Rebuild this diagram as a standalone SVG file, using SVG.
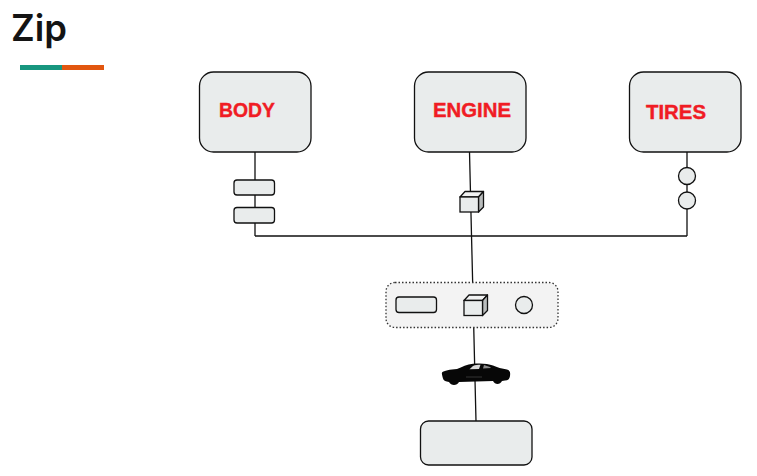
<svg xmlns="http://www.w3.org/2000/svg" width="757" height="476" viewBox="0 0 757 476">
<defs>
<style>
.n{fill:#e9ecec;stroke:#111;stroke-width:1.300}
.c{fill:none;stroke:#111;stroke-width:1.300}
.s{fill:#b9bcbc;stroke:#111;stroke-width:1.300;stroke-linejoin:round}
.t{fill:#f2f3f3;stroke:#111;stroke-width:1.300;stroke-linejoin:round}
.l{font-family:"Liberation Sans",Arial,sans-serif;font-weight:700;font-size:19.500px;fill:#f01c24;stroke:#f01c24;stroke-width:.4}
</style>
<g id="cube">
<path class="t" d="M0 5.500L5 0H23.500L18.500 5.500Z"/>
<path class="s" d="M18.500 5.500L23.500 0V15.500L18.500 20.500Z"/>
<rect class="n" x="0" y="5.500" width="18.500" height="15"/>
</g>
</defs>
<rect width="757" height="476" fill="#fff"/>
<g id="title">
<text x="11" y="41" font-family="Inter,'Liberation Sans',sans-serif" font-size="37" font-weight="600" fill="#141414" textLength="56" lengthAdjust="spacingAndGlyphs">Zip</text>
<rect x="20" y="65" width="42" height="5" fill="#17967f"/>
<rect x="62" y="65" width="42" height="5" fill="#e2560f"/>
</g>
<g id="connectors">
<path class="c" d="M255 152V236M255 236H687M687 152V236M469.500 152L476 421"/>
</g>
<g id="body"><rect class="n" x="199.500" y="72" width="111.500" height="80" rx="14"/><text class="l" x="219" y="116.500" textLength="56" lengthAdjust="spacingAndGlyphs">BODY</text></g>
<g id="engine"><rect class="n" x="414.500" y="72" width="111.500" height="80" rx="14"/><text class="l" x="433" y="116.500" textLength="78" lengthAdjust="spacingAndGlyphs">ENGINE</text></g>
<g id="tires"><rect class="n" x="629.500" y="72" width="111.500" height="80" rx="14"/><text class="l" x="646" y="118.500" textLength="60" lengthAdjust="spacingAndGlyphs">TIRES</text></g>
<g id="body-part-1"><rect class="n" x="234" y="180" width="40.500" height="15" rx="3"/></g>
<g id="body-part-2"><rect class="n" x="234" y="207.500" width="40.500" height="15.500" rx="3"/></g>
<g id="engine-part"><use href="#cube" x="460" y="191.500"/></g>
<g id="tire-1"><circle class="n" cx="687" cy="176" r="8.500"/></g>
<g id="tire-2"><circle class="n" cx="687" cy="200.500" r="8.500"/></g>
<g id="assembly">
<rect x="386" y="282.500" width="172" height="45" rx="9" fill="#f3f3f3" stroke="#333" stroke-width="1.300" stroke-dasharray="1.500 2"/>
<rect class="n" x="396" y="297" width="40.500" height="15.500" rx="3"/>
<use href="#cube" x="464" y="295"/>
<circle class="n" cx="524" cy="305" r="8.500"/>
</g>
<g id="car">
<path fill="#070707" d="M442 372.500C444 370.500 450 369.500 457 369C462 367 467 364.500 473 363.800C480 363 488 363.500 493 365.500C497 367.500 502 368.500 507 369.500C510 370.500 510.500 372 510 376C509.500 379 508 380.500 505 380.500L502 381C500 385 495 385 493 381L459 382C457 386 451 386 449 382C446 381.500 443.500 381 443 378.500C442.500 376 441.500 374 442 372.500Z"/>
<path fill="#d8d8d8" d="M473 366C475 365 478 364.800 480.500 364.800L479 369L469.500 369.300Z"/>
<path fill="#8a8a8a" d="M484 365L490 367L491 368L483 368.500Z"/>
<path fill="none" stroke="#555" stroke-width=".6" d="M466 377H482"/>
</g>
<g id="output"><rect class="n" x="420.500" y="421" width="111.500" height="44" rx="8"/></g>
</svg>
